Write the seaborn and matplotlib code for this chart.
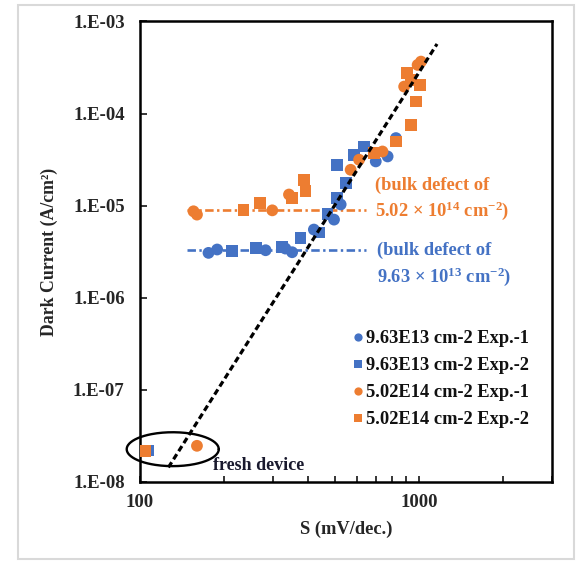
import numpy as np
import pandas as pd
import matplotlib
matplotlib.use("Agg")
import matplotlib.pyplot as plt
from matplotlib.patches import Rectangle
import seaborn as sns

# ---------------- data ----------------
blue1_S = [176, 189, 282, 332, 351, 420, 496, 524, 700, 772, 827]
blue1_I = [3.07e-6, 3.34e-6, 3.28e-6, 3.42e-6, 3.12e-6, 5.50e-6, 7.05e-6, 1.03e-5, 3.02e-5, 3.42e-5, 5.41e-5]

blue2_S = [107, 214, 261, 323, 376, 437, 470, 510, 546, 510, 585, 636]
blue2_I = [2.2e-8, 3.20e-6, 3.48e-6, 3.57e-6, 4.47e-6, 5.10e-6, 8.19e-6, 1.21e-5, 1.76e-5, 2.78e-5, 3.57e-5, 4.39e-5]

orange1_S = [160, 155.5, 160, 298, 342, 569, 610, 740, 885, 989, 1017]
orange1_I = [2.47e-8, 8.68e-6, 7.99e-6, 8.89e-6, 1.32e-5, 2.45e-5, 3.15e-5, 3.87e-5, 1.96e-4, 3.37e-4, 3.66e-4]

orange2_S = [104, 235, 270, 351, 387, 392, 691, 827, 936, 975, 1011, 936, 905]
orange2_I = [2.18e-8, 9.05e-6, 1.07e-5, 1.21e-5, 1.91e-5, 1.43e-5, 3.72e-5, 4.97e-5, 7.54e-5, 1.35e-4, 2.05e-4, 2.32e-4, 2.74e-4]

series_names = ["9.63E13 cm-2 Exp.-1", "9.63E13 cm-2 Exp.-2",
                "5.02E14 cm-2 Exp.-1", "5.02E14 cm-2 Exp.-2"]

fit_S = [126.4, 1161]
fit_I = [1.44e-8, 5.69e-4]

ref_S = [147, 645]
ref_orange_level = 8.9e-6
ref_blue_level = 3.28e-6

fresh_center_S = 131
fresh_center_I = 2.27e-8

y_ticks = [1e-8, 1e-7, 1e-6, 1e-5, 1e-4, 1e-3]
y_tick_labels = ["1.E-08", "1.E-07", "1.E-06", "1.E-05", "1.E-04", "1.E-03"]
x_ticks = [100, 1000]
x_tick_labels = ["100", "1000"]

# ---------------- style ----------------
sns.set_style("white")
plt.rcParams["font.family"] = ["Liberation Serif", "DejaVu Serif"]
plt.rcParams["font.weight"] = "bold"
plt.rcParams["mathtext.fontset"] = "custom"
plt.rcParams["mathtext.rm"] = "Liberation Serif:bold"
plt.rcParams["mathtext.it"] = "Liberation Serif:bold:italic"
plt.rcParams["mathtext.bf"] = "Liberation Serif:bold"

BLUE = "#4472C4"
ORANGE = "#ED7D31"

frames = []
for name, S, I in zip(series_names, [blue1_S, blue2_S, orange1_S, orange2_S],
                      [blue1_I, blue2_I, orange1_I, orange2_I]):
    frames.append(pd.DataFrame({"S": S, "I": I, "series": name}))
df = pd.concat(frames, ignore_index=True)

fig = plt.figure(figsize=(5.76, 5.63), dpi=100)
ax = fig.add_axes([0.2431, 0.1439, 0.7153, 0.8181])

palette = {series_names[0]: BLUE, series_names[1]: BLUE,
           series_names[2]: ORANGE, series_names[3]: ORANGE}
markers = {series_names[0]: "o", series_names[1]: "s",
           series_names[2]: "o", series_names[3]: "s"}

sns.scatterplot(data=df, x="S", y="I", hue="series", style="series",
                hue_order=series_names, style_order=series_names,
                palette=palette, markers=markers, s=72, linewidth=0,
                ax=ax, zorder=3, legend=True)

ax.set_xscale("log")
ax.set_yscale("log")
ax.set_xlim(100, 3000)
ax.set_ylim(1e-8, 1e-3)

# reference dash-dot lines
ax.plot(ref_S, [ref_orange_level] * 2, color=ORANGE, lw=1.9,
        linestyle=(0, (3.2, 1.3, 0.9, 1.3)), zorder=2)
ax.plot(ref_S, [ref_blue_level] * 2, color=BLUE, lw=1.9,
        linestyle=(0, (3.2, 1.3, 0.9, 1.3)), zorder=2)

# fit line
ax.plot(fit_S, fit_I, color="black", lw=2.3, linestyle=(0, (1.9, 1.1)), zorder=4)

# ellipse around fresh device points (drawn in log space)
t = np.linspace(0, 2 * np.pi, 200)
ex = 10 ** (np.log10(fresh_center_S) + 0.165 * np.cos(t))
ey = 10 ** (np.log10(fresh_center_I) + 0.184 * np.sin(t))
ax.plot(ex, ey, color="black", lw=1.7, zorder=5, clip_on=False)

ax.text(183, 1.5e-8, "fresh device", fontsize=13, fontweight="bold",
        color="#1a1a2e", ha="left", va="center")

# annotations
ax.text(0.571, 0.645, "(bulk defect of", transform=ax.transAxes,
        color=ORANGE, fontsize=13.3, fontweight="bold", ha="left", va="center")
ax.text(0.571, 0.589, r"5.02 $\times$ 10$^{14}$ cm$^{-2}$)", transform=ax.transAxes,
        color=ORANGE, fontsize=13.3, fontweight="bold", ha="left", va="center")
ax.text(0.575, 0.503, "(bulk defect of", transform=ax.transAxes,
        color=BLUE, fontsize=13.3, fontweight="bold", ha="left", va="center")
ax.text(0.575, 0.446, r"9.63 $\times$ 10$^{13}$ cm$^{-2}$)", transform=ax.transAxes,
        color=BLUE, fontsize=13.3, fontweight="bold", ha="left", va="center")

# ticks
ax.set_yticks(y_ticks)
ax.set_yticklabels(y_tick_labels)
ax.yaxis.set_minor_locator(matplotlib.ticker.NullLocator())
ax.set_xticks(x_ticks)
ax.set_xticklabels(x_tick_labels)
ax.xaxis.set_minor_locator(matplotlib.ticker.LogLocator(base=10, subs=np.arange(2, 10)))
ax.xaxis.set_minor_formatter(matplotlib.ticker.NullFormatter())
ax.tick_params(axis="y", which="major", direction="in", length=5, width=1.3,
               pad=11, labelsize=13.5, left=True, right=False)
ax.tick_params(axis="x", which="both", direction="in", length=4, width=1.3,
               pad=9, labelsize=13.5, bottom=True, top=False)
for lab in ax.get_xticklabels() + ax.get_yticklabels():
    lab.set_fontweight("bold")

for sp in ax.spines.values():
    sp.set_visible(True)
    sp.set_color("black")
    sp.set_linewidth(1.8)

ax.set_xlabel("S (mV/dec.)", fontsize=13.3, fontweight="bold")
ax.set_ylabel("Dark Current (A/cm²)", fontsize=12.8, fontweight="bold")
ax.xaxis.set_label_coords(0.5, -0.085)
ax.yaxis.set_label_coords(-0.2, 0.5)

# legend
handles, labels = ax.get_legend_handles_labels()
hl = {l: h for h, l in zip(handles, labels)}
leg = ax.legend([hl[n] for n in series_names], series_names, loc="upper left",
                bbox_to_anchor=(0.515, 0.33), frameon=False, fontsize=13.3,
                handlelength=0.6, handletextpad=0.15, labelspacing=0.55,
                borderpad=0, borderaxespad=0, markerscale=0.7)
for txt in leg.get_texts():
    txt.set_fontweight("bold")
    txt.set_color("#111111")

# outer light frame
fig.add_artist(Rectangle((18 / 576, 1 - 559 / 563), (574 - 18) / 576, (559 - 5) / 563,
                         transform=fig.transFigure, fill=False,
                         edgecolor="#d9d9d9", linewidth=1.5))

fig.savefig("out.png", dpi=100, facecolor="white")
